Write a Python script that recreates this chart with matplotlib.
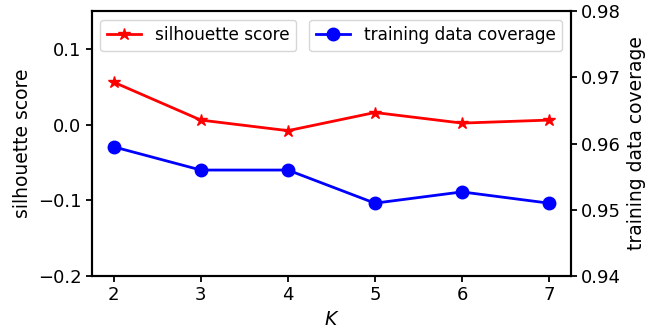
import matplotlib
matplotlib.use("Agg")
import matplotlib.pyplot as plt

k_values = [2, 3, 4, 5, 6, 7]
silhouette = [0.056, 0.006, -0.008, 0.016, 0.002, 0.006]
coverage = [0.9595, 0.9560, 0.9560, 0.9510, 0.9527, 0.9510]

plt.rcParams["font.size"] = 13
plt.rcParams["axes.linewidth"] = 1.5
plt.rcParams["xtick.major.width"] = 1.3
plt.rcParams["ytick.major.width"] = 1.3
plt.rcParams["xtick.major.size"] = 4
plt.rcParams["ytick.major.size"] = 4

fig = plt.figure(figsize=(6.54, 3.35), dpi=100)
ax1 = fig.add_axes([0.1407, 0.176, 0.732, 0.791])
ax2 = ax1.twinx()

ax1.plot(k_values, silhouette, color="red", marker="*", markersize=9,
         linewidth=2, label="silhouette score")
ax2.plot(k_values, coverage, color="blue", marker="o", markersize=9,
         linewidth=2, label="training data coverage")

ax1.set_ylim(-0.2, 0.15)
ax1.set_yticks([-0.2, -0.1, 0.0, 0.1])
ax2.set_ylim(0.94, 0.98)
ax2.set_yticks([0.94, 0.95, 0.96, 0.97, 0.98])
ax1.set_xticks(k_values)

ax1.set_xlabel("$K$", fontsize=13.5)
ax1.set_ylabel("silhouette score", fontsize=13.5)
ax2.set_ylabel("training data coverage", fontsize=13.5)

ax1.legend(loc="upper left", fontsize=12.2)
ax2.legend(loc="upper right", fontsize=12.2)

fig.savefig("out.png", dpi=100)
